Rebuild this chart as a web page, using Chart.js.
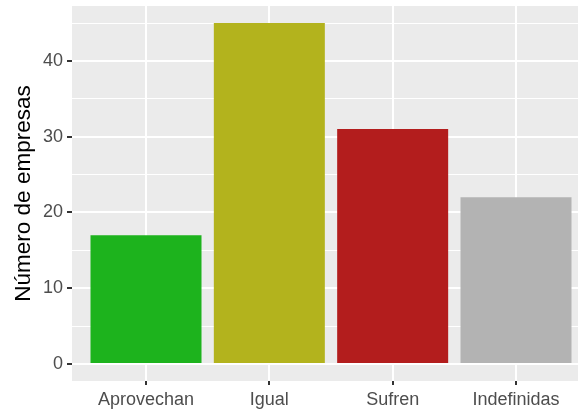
<!DOCTYPE html>
<html>
<head>
<meta charset="utf-8">
<script src="https://cdn.jsdelivr.net/npm/chart.js@4"></script>
<style>
  html, body { margin: 0; padding: 0; background: #fff; overflow: hidden; }
  #wrap { width: 590px; height: 409px; }
</style>
</head>
<body>
<div id="wrap"><canvas id="barChart"></canvas></div>
<script>
const categories = ["Aprovechan", "Igual", "Sufren", "Indefinidas"];
const companyCounts = [17, 45, 31, 22];
const barColors = ["#1DB31D", "#B3B31D", "#B31D1D", "#B3B3B3"];
const yTickValues = [0, 5, 10, 15, 20, 25, 30, 35, 40, 45];

const ctx = document.getElementById("barChart").getContext("2d");

// fondo gris del panel
const panelBackground = {
    id: "panelBackground",
    beforeDraw(chart) {
        const a = chart.chartArea;
        chart.ctx.save();
        chart.ctx.fillStyle = "#EBEBEB";
        chart.ctx.fillRect(a.left, a.top, a.right - a.left, a.bottom - a.top);
        chart.ctx.restore();
    }
};

const points = companyCounts.map((v, i) => ({ x: i + 1, y: v }));

new Chart(ctx, {
    type: "bar",
    data: {
        datasets: [{
            data: points,
            backgroundColor: barColors,
            borderWidth: 0,
            barPercentage: 0.9,
            categoryPercentage: 1.0
        }]
    },
    options: {
        responsive: true,
        maintainAspectRatio: false,
        animation: false,
        layout: { padding: { top: 6, left: 0, right: 0, bottom: 0 } },
        plugins: { legend: { display: false }, tooltip: { enabled: false } },
        scales: {
            x: {
                type: "linear",
                min: 0.4,
                max: 4.6,
                offset: false,
                afterBuildTicks: scale => {
                    scale.ticks = categories.map((c, i) => ({ value: i + 1 }));
                },
                afterFit: scale => {
                    scale.height = 28;
                    scale.paddingLeft = 0;
                    scale.paddingRight = 0;
                },
                grid: {
                    offset: false,
                    color: "#FFFFFF",
                    lineWidth: 2,
                    tickColor: "#333333",
                    tickLength: 4,
                    drawTicks: true
                },
                border: { display: false },
                ticks: {
                    padding: 4,
                    color: "#4D4D4D",
                    font: { family: "Liberation Sans", size: 18 },
                    maxRotation: 0,
                    autoSkip: false,
                    callback: v => categories[v - 1] || ""
                }
            },
            y: {
                min: -2.25,
                max: 47.25,
                afterBuildTicks: scale => {
                    scale.ticks = yTickValues.map(v => ({ value: v }));
                },
                afterFit: scale => {
                    scale.width = 72;
                    scale.paddingTop = 0;
                    scale.paddingBottom = 0;
                },
                grid: {
                    color: "#FFFFFF",
                    lineWidth: c => (c.tick && c.tick.value % 10 === 0) ? 2 : 1,
                    tickColor: c => (c.tick && c.tick.value % 10 === 0) ? "#333333" : "rgba(0,0,0,0)",
                    tickLength: 5
                },
                border: { display: false },
                ticks: {
                    padding: 4,
                    color: "#4D4D4D",
                    font: { family: "Liberation Sans", size: 18 },
                    callback: v => (v % 10 === 0) ? String(v) : ""
                },
                title: {
                    display: true,
                    text: "Número de empresas",
                    color: "#000000",
                    font: { family: "Liberation Sans", size: 22.5 },
                    padding: { top: 10, bottom: 0 }
                }
            }
        }
    },
    plugins: [panelBackground]
});
</script>
</body>
</html>
